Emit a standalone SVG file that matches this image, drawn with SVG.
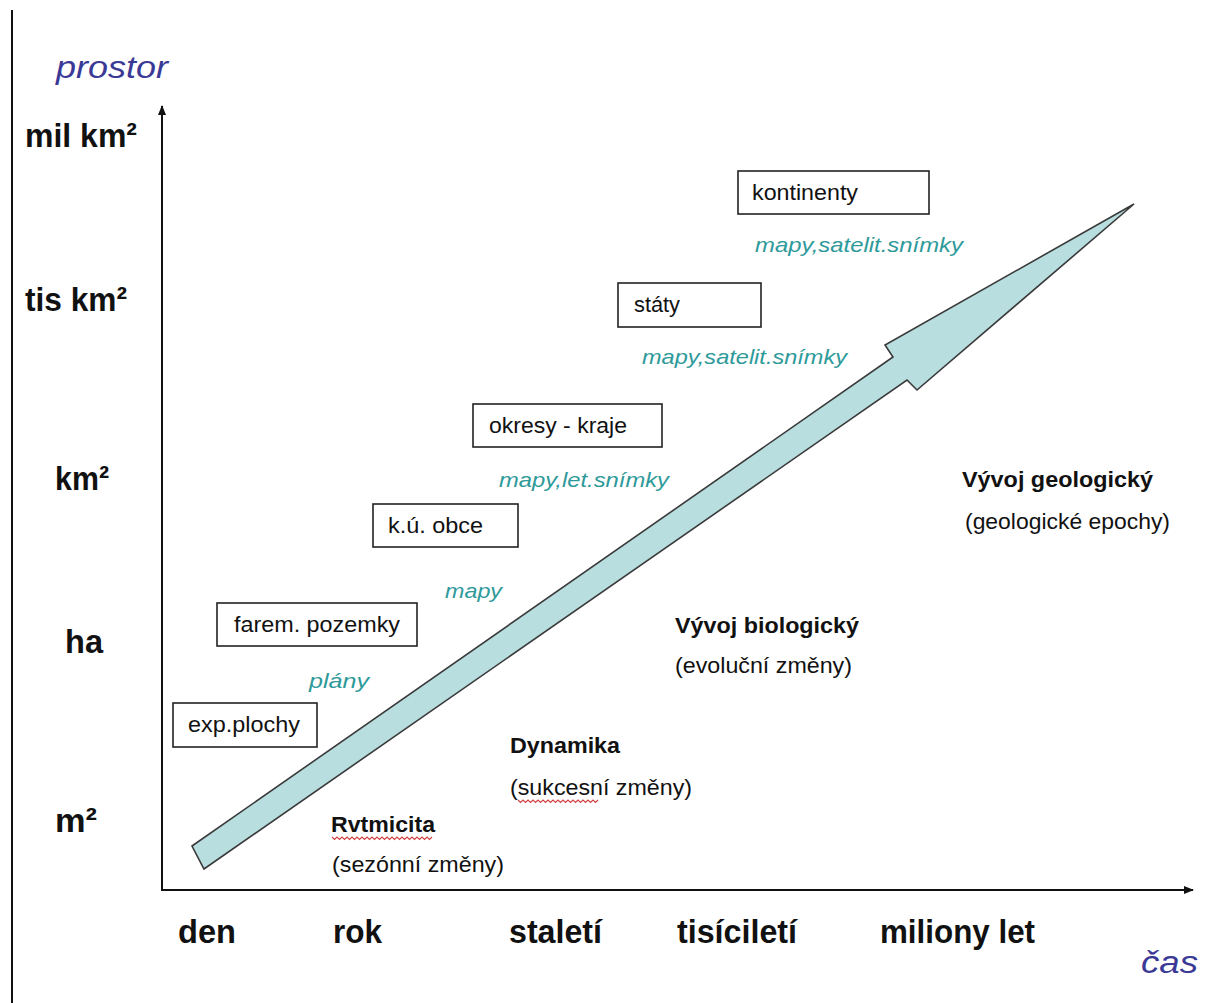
<svg xmlns="http://www.w3.org/2000/svg" width="1205" height="1003" viewBox="0 0 1205 1003">
  <style>
    .axislbl { font-family: "Liberation Sans", Arial, sans-serif; font-weight: bold; font-size: 33px; fill: #111; }
    .title { font-family: "Liberation Sans", Arial, sans-serif; font-style: italic; font-size: 31px; fill: #3a3a96; }
    .box rect { fill: #fff; stroke: #222; stroke-width: 1.6; }
    .box text { font-family: "Liberation Sans", Arial, sans-serif; font-size: 22px; fill: #111; }
    .src { font-family: "Liberation Sans", Arial, sans-serif; font-style: italic; font-size: 21px; fill: #2e9a9a; }
    .head { font-family: "Liberation Sans", Arial, sans-serif; font-weight: bold; font-size: 22px; fill: #111; }
    .sub { font-family: "Liberation Sans", Arial, sans-serif; font-size: 22px; fill: #111; }
    .squiggle { fill: none; stroke: #d04040; stroke-width: 1.1; }
    .axis { stroke: #111; stroke-width: 2; fill: none; }
  </style>
  <defs>
    <marker id="tip" markerWidth="10" markerHeight="8" refX="9" refY="4" orient="auto" markerUnits="userSpaceOnUse">
      <path d="M0,0 L10,4 L0,8 Z" fill="#111"/>
    </marker>
  </defs>

  <rect width="1205" height="1003" fill="#fff"/>

  <!-- frame edge on the left -->
  <line x1="12" y1="10" x2="12" y2="1003" stroke="#111" stroke-width="2"/>

  <!-- axes -->
  <g id="axes">
    <line class="axis" x1="162" y1="890" x2="162" y2="106" marker-end="url(#tip)"/>
    <line class="axis" x1="161" y1="890" x2="1193" y2="890" marker-end="url(#tip)"/>
    <text class="title" x="56" y="78" textLength="112" lengthAdjust="spacingAndGlyphs">prostor</text>
    <text class="title" x="1141" y="973" textLength="57" lengthAdjust="spacingAndGlyphs">čas</text>
  </g>

  <!-- space scale -->
  <g id="space-scale">
    <text class="axislbl" x="25" y="147" textLength="112" lengthAdjust="spacingAndGlyphs">mil km²</text>
    <text class="axislbl" x="25" y="311" textLength="102" lengthAdjust="spacingAndGlyphs">tis km²</text>
    <text class="axislbl" x="55" y="490" textLength="54" lengthAdjust="spacingAndGlyphs">km²</text>
    <text class="axislbl" x="65" y="653" textLength="38" lengthAdjust="spacingAndGlyphs">ha</text>
    <text class="axislbl" x="55" y="832" textLength="42" lengthAdjust="spacingAndGlyphs">m²</text>
  </g>

  <!-- time scale -->
  <g id="time-scale">
    <text class="axislbl" x="178" y="943" textLength="58" lengthAdjust="spacingAndGlyphs">den</text>
    <text class="axislbl" x="333" y="943" textLength="49" lengthAdjust="spacingAndGlyphs">rok</text>
    <text class="axislbl" x="509" y="943" textLength="93" lengthAdjust="spacingAndGlyphs">staletí</text>
    <text class="axislbl" x="677" y="943" textLength="120" lengthAdjust="spacingAndGlyphs">tisíciletí</text>
    <text class="axislbl" x="880" y="943" textLength="155" lengthAdjust="spacingAndGlyphs">miliony let</text>
  </g>

  <!-- connectors: the broad rising arrow -->
  <g id="connectors">
    <polygon points="192,846 893,357 885,345 1134,204 917,390 907,380 204,869" fill="#b8dee0" stroke="#3a3a3a" stroke-width="1.6" stroke-linejoin="miter"/>
  </g>

  <!-- scale boxes with their data sources -->
  <g id="kontinenty" class="box">
    <rect x="738" y="171" width="191" height="43"/>
    <text x="752" y="200" textLength="106" lengthAdjust="spacingAndGlyphs">kontinenty</text>
  </g>
  <text class="src" x="755" y="252" textLength="208" lengthAdjust="spacingAndGlyphs">mapy,satelit.snímky</text>

  <g id="staty" class="box">
    <rect x="618" y="283" width="143" height="44"/>
    <text x="634" y="312" textLength="46" lengthAdjust="spacingAndGlyphs">státy</text>
  </g>
  <text class="src" x="642" y="364" textLength="205" lengthAdjust="spacingAndGlyphs">mapy,satelit.snímky</text>

  <g id="okresy" class="box">
    <rect x="473" y="404" width="189" height="43"/>
    <text x="489" y="433" textLength="138" lengthAdjust="spacingAndGlyphs">okresy - kraje</text>
  </g>
  <text class="src" x="499" y="487" textLength="170" lengthAdjust="spacingAndGlyphs">mapy,let.snímky</text>

  <g id="obce" class="box">
    <rect x="373" y="504" width="145" height="43"/>
    <text x="388" y="533" textLength="95" lengthAdjust="spacingAndGlyphs">k.ú. obce</text>
  </g>
  <text class="src" x="445" y="598" textLength="57" lengthAdjust="spacingAndGlyphs">mapy</text>

  <g id="pozemky" class="box">
    <rect x="217" y="603" width="200" height="43"/>
    <text x="234" y="632" textLength="166" lengthAdjust="spacingAndGlyphs">farem. pozemky</text>
  </g>
  <text class="src" x="309" y="688" textLength="60" lengthAdjust="spacingAndGlyphs">plány</text>

  <g id="plochy" class="box">
    <rect x="173" y="703" width="144" height="44"/>
    <text x="188" y="732" textLength="112" lengthAdjust="spacingAndGlyphs">exp.plochy</text>
  </g>

  <!-- kinds of change -->
  <g id="rytmicita">
    <text class="head" x="331" y="832" textLength="104" lengthAdjust="spacingAndGlyphs">Rvtmicita</text>
    <path class="squiggle" d="M332,837 l2.5,2.5 l2.5,-2.5 l2.5,2.5 l2.5,-2.5 l2.5,2.5 l2.5,-2.5 l2.5,2.5 l2.5,-2.5 l2.5,2.5 l2.5,-2.5 l2.5,2.5 l2.5,-2.5 l2.5,2.5 l2.5,-2.5 l2.5,2.5 l2.5,-2.5 l2.5,2.5 l2.5,-2.5 l2.5,2.5 l2.5,-2.5 l2.5,2.5 l2.5,-2.5 l2.5,2.5 l2.5,-2.5 l2.5,2.5 l2.5,-2.5 l2.5,2.5 l2.5,-2.5 l2.5,2.5 l2.5,-2.5 l2.5,2.5 l2.5,-2.5 l2.5,2.5 l2.5,-2.5 l2.5,2.5 l2.5,-2.5 l2.5,2.5 l2.5,-2.5 l2.5,2.5 l2.5,-2.5"/>
    <text class="sub" x="332" y="872" textLength="172" lengthAdjust="spacingAndGlyphs">(sezónní změny)</text>
  </g>

  <g id="dynamika">
    <text class="head" x="510" y="753" textLength="110" lengthAdjust="spacingAndGlyphs">Dynamika</text>
    <text class="sub" x="510" y="795" textLength="182" lengthAdjust="spacingAndGlyphs">(sukcesní změny)</text>
    <path class="squiggle" d="M518,800 l2.5,2.5 l2.5,-2.5 l2.5,2.5 l2.5,-2.5 l2.5,2.5 l2.5,-2.5 l2.5,2.5 l2.5,-2.5 l2.5,2.5 l2.5,-2.5 l2.5,2.5 l2.5,-2.5 l2.5,2.5 l2.5,-2.5 l2.5,2.5 l2.5,-2.5 l2.5,2.5 l2.5,-2.5 l2.5,2.5 l2.5,-2.5 l2.5,2.5 l2.5,-2.5 l2.5,2.5 l2.5,-2.5 l2.5,2.5 l2.5,-2.5 l2.5,2.5 l2.5,-2.5 l2.5,2.5 l2.5,-2.5 l2.5,2.5 l2.5,-2.5"/>
  </g>

  <g id="biologicky">
    <text class="head" x="675" y="633" textLength="184" lengthAdjust="spacingAndGlyphs">Vývoj biologický</text>
    <text class="sub" x="675" y="673" textLength="177" lengthAdjust="spacingAndGlyphs">(evoluční změny)</text>
  </g>

  <g id="geologicky">
    <text class="head" x="962" y="487" textLength="191" lengthAdjust="spacingAndGlyphs">Vývoj geologický</text>
    <text class="sub" x="965" y="529" textLength="205" lengthAdjust="spacingAndGlyphs">(geologické epochy)</text>
  </g>
</svg>
